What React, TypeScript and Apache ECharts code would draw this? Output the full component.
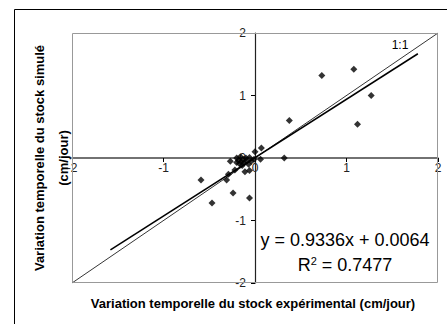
import React, { useEffect, useRef } from "react";
import * as echarts from "echarts";

const xTicks = [-2, -1, 0, 1, 2];
const observed = [0.73, 1.08, 1.27, 1.12, 0.375, 0.32, 0.07, 0.0, 0.06, -0.01, -0.59, -0.47, -0.31, -0.29, -0.24, -0.06, -0.27, -0.22, -0.11, -0.06, -0.2, -0.18, -0.16, -0.15, -0.13, -0.12, -0.1, -0.09, -0.07, -0.06, -0.17, -0.14, -0.04, -0.2];
const simulated = [1.32, 1.42, 1.0, 0.54, 0.6, 0.0, 0.16, 0.1, -0.02, -0.02, -0.35, -0.72, -0.35, -0.26, -0.56, -0.64, -0.05, -0.19, -0.22, -0.2, 0.0, -0.04, 0.02, -0.06, -0.02, -0.08, 0.0, -0.05, -0.1, 0.01, -0.09, -0.12, -0.05, -0.07];
const oneToOneX = [-2, 2];
const oneToOneY = [-2, 2];
const trendX = [-1.58, 1.78];
const trendY = [-1.469, 1.668];
const equationText = "y = 0.9336x + 0.0064";
const r2Value = "0.7477";
const xName = "Variation temporelle du stock expérimental (cm/jour)";
const yName = "Variation temporelle du stock simulé\n(cm/jour)";

export default function App() {
  const ref = useRef<HTMLDivElement>(null);
  useEffect(() => {
    document.body.style.margin = "0";
    const chart = echarts.init(ref.current!, null, { renderer: "svg" });
    const font = "'Liberation Sans', Arial, sans-serif";
    chart.setOption({
      animation: false,
      backgroundColor: "#fff",
      textStyle: { fontFamily: font },
      grid: { left: 72, right: 9, top: 33, bottom: 41, show: false },
      xAxis: {
        type: "value",
        position: "bottom",
        offset: -125,
        min: xTicks[0],
        max: xTicks[xTicks.length - 1],
        interval: 1,
        axisLine: { onZero: false, lineStyle: { color: "#444", width: 1.5 } },
        axisTick: { show: true, length: 4, lineStyle: { color: "#000" } },
        axisLabel: { color: "#222", fontSize: 12, margin: 4, fontFamily: font },
        splitLine: { show: false },
      },
      yAxis: {
        type: "value",
        position: "left",
        offset: -183,
        min: xTicks[0],
        max: xTicks[xTicks.length - 1],
        interval: 1,
        axisLine: { onZero: false, lineStyle: { color: "#222", width: 1.2 } },
        axisTick: { show: true, length: 4, lineStyle: { color: "#000" } },
        axisLabel: { color: "#222", fontSize: 12, margin: 9, fontFamily: font },
        splitLine: { show: false },
      },
      series: [
        {
          type: "line",
          data: oneToOneX.map((x, i) => [x, oneToOneY[i]]),
          symbol: "none",
          lineStyle: { color: "#000", width: 0.8 },
          z: 2,
        },
        {
          type: "line",
          data: trendX.map((x, i) => [x, trendY[i]]),
          symbol: "none",
          lineStyle: { color: "#000", width: 1.5 },
          z: 2,
        },
        {
          type: "scatter",
          data: observed.map((x, i) => [x, simulated[i]]),
          symbol: "diamond",
          symbolSize: 7,
          itemStyle: { color: "#000" },
          z: 3,
        },
      ],
      graphic: [
        { type: "polyline", z: 50, shape: { points: [[14.5, 324], [14.5, 9.5], [447, 9.5]] }, style: { fill: null, stroke: "#000", lineWidth: 1 }, silent: true },
        { type: "polyline", z: 50, shape: { points: [[72.5, 33.5], [437.5, 33.5], [437.5, 282.5], [72.5, 282.5], [72.5, 33.5]] }, style: { fill: null, stroke: "#999", lineWidth: 1 }, silent: true },
        { type: "text", z: 50, x: 400, y: 45, style: { text: "1:1", font: `12px ${font}`, fill: "#000", align: "center", verticalAlign: "middle" } },
        { type: "text", z: 50, x: 345, y: 240, style: { text: equationText, font: `18px ${font}`, fill: "#000", align: "center", verticalAlign: "middle" } },
        {
          type: "text",
          z: 50,
          x: 345,
          y: 265,
          style: {
            text: "{a|R}{s|2}{a| = " + r2Value + "}",
            align: "center",
            verticalAlign: "middle",
            rich: {
              a: { font: `18px ${font}`, fill: "#000", color: "#000" },
              s: { font: `11px ${font}`, color: "#000", verticalAlign: "top", padding: [0, 0, 9, 0] },
            },
          },
        },
        { type: "text", z: 50, x: 253, y: 303, style: { text: xName, font: `bold 13px ${font}`, fill: "#000", align: "center", verticalAlign: "middle" } },
        {
          type: "text",
          z: 50,
          x: 51,
          y: 158,
          rotation: Math.PI / 2,
          style: { text: yName, font: `bold 13px ${font}`, fill: "#000", align: "center", verticalAlign: "middle", lineHeight: 24 },
        },
      ],
    });
    return () => chart.dispose();
  }, []);
  return <div ref={ref} style={{ width: 447, height: 324 }} />;
}
